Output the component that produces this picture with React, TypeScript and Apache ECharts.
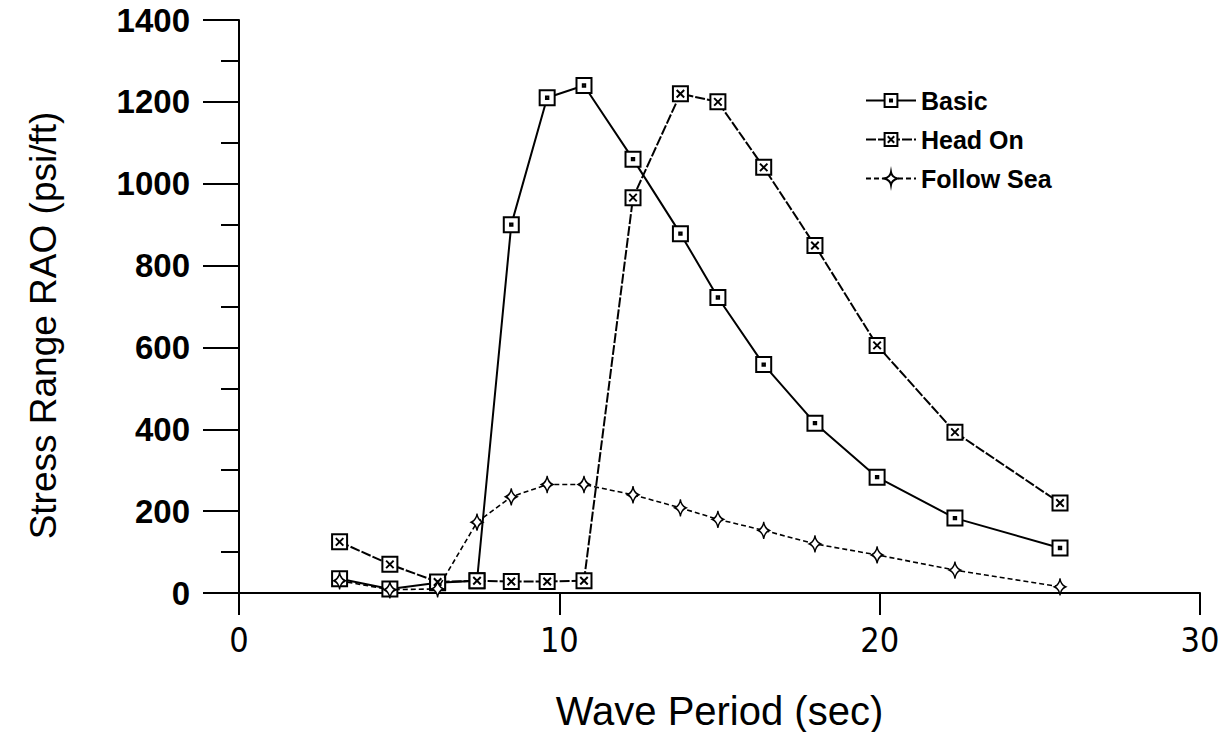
import React, { useEffect, useRef } from "react";
import * as echarts from "echarts";

const periods = [3.14, 4.71, 6.2, 7.43, 8.5, 9.62, 10.77, 12.3, 13.78, 14.95, 16.38, 17.98, 19.92, 22.35, 25.63];
const basic = [35, 10, 25, 30, 900, 1210, 1240, 1060, 878, 722, 558, 415, 283, 183, 110];
const headOn = [125, 70, 27, 30, 28, 28, 30, 966, 1220, 1200, 1040, 849, 605, 393, 220];
const followSea = [30, 8, 10, 173, 235, 265, 265, 240, 208, 180, 153, 120, 93, 56, 15];

const xTicks = [0, 10, 20, 30];
const yTicks = [0, 200, 400, 600, 800, 1000, 1200, 1400];

const basicSymbol = "path://M0,0H10V10H0Z M4.2,4.2H5.8V5.8H4.2Z";
const headSymbol = "path://M0,0H10V10H0Z M2.5,2.5L7.5,7.5 M7.5,2.5L2.5,7.5";
const seaSymbol = "path://M5,0Q5.6,5 10,7Q5.6,9 5,14Q4.4,9 0,7Q4.4,5 5,0Z";

const pairs = (ys: number[]) => periods.map((x, i) => [x, ys[i]]);

export default function App() {
  const ref = useRef<HTMLDivElement>(null);
  useEffect(() => {
    if (!ref.current) return;
    const chart = echarts.init(ref.current, null, { renderer: "svg" });
    const black = "#000";
    chart.setOption({
      animation: false,
      backgroundColor: "#fff",
      grid: { left: 239, right: 31, top: 20, bottom: 147, containLabel: false },
      legend: {
        orient: "vertical",
        left: 860,
        top: 83,
        itemWidth: 50,
        itemHeight: 16,
        itemGap: 14,
        textStyle: { fontFamily: "Liberation Sans", fontSize: 25, fontWeight: "bold", color: black },
        data: ["Basic", "Head On", "Follow Sea"],
      },
      xAxis: {
        type: "value",
        min: xTicks[0],
        max: xTicks[xTicks.length - 1],
        interval: 10,
        name: "Wave Period (sec)",
        nameLocation: "middle",
        nameGap: 98,
        nameTextStyle: { fontFamily: "Liberation Sans", fontSize: 40, color: black },
        axisLine: { show: true, lineStyle: { color: black, width: 2 } },
        axisTick: { show: true, length: 22, lineStyle: { color: black, width: 2 } },
        axisLabel: {
          margin: 30,
          fontFamily: "DejaVu Sans Condensed, Liberation Sans",
          fontSize: 34,
          color: black,
          formatter: (v: number) => (xTicks.includes(v) ? String(v) : ""),
        },
        splitLine: { show: false },
      },
      yAxis: {
        type: "value",
        min: yTicks[0],
        max: yTicks[yTicks.length - 1],
        interval: 200,
        name: "Stress Range RAO (psi/ft)",
        nameLocation: "middle",
        nameGap: 177,
        nameTextStyle: { fontFamily: "Liberation Sans", fontSize: 37, color: black, padding: [0, 38, 0, 0] },
        axisLine: { show: true, lineStyle: { color: black, width: 2 } },
        axisTick: { show: true, length: 36, lineStyle: { color: black, width: 2 } },
        minorTick: { show: true, splitNumber: 2, length: 18, lineStyle: { color: black, width: 2 } },
        axisLabel: {
          margin: 49,
          fontFamily: "Liberation Sans",
          fontSize: 33,
          fontWeight: "bold",
          color: black,
          formatter: (v: number) => (yTicks.includes(v) ? String(v) : ""),
        },
        splitLine: { show: false },
      },
      series: [
        {
          name: "Basic",
          type: "line",
          data: pairs(basic),
          symbol: basicSymbol,
          symbolSize: 15,
          lineStyle: { color: black, width: 2 },
          itemStyle: { color: "#fff", borderColor: black, borderWidth: 2 },
          z: 3,
        },
        {
          name: "Head On",
          type: "line",
          data: pairs(headOn),
          symbol: headSymbol,
          symbolSize: 15,
          lineStyle: { color: black, width: 2, type: [10, 2] },
          itemStyle: { color: "#fff", borderColor: black, borderWidth: 2 },
          z: 4,
        },
        {
          name: "Follow Sea",
          type: "line",
          data: pairs(followSea),
          symbol: seaSymbol,
          symbolSize: [11, 17],
          lineStyle: { color: black, width: 1.6, type: [5, 3] },
          itemStyle: { color: "#fff", borderColor: black, borderWidth: 1.6 },
          z: 5,
        },
      ],
    });
    return () => chart.dispose();
  }, []);
  return <div ref={ref} style={{ width: 1231, height: 740, margin: -8 }} />;
}
